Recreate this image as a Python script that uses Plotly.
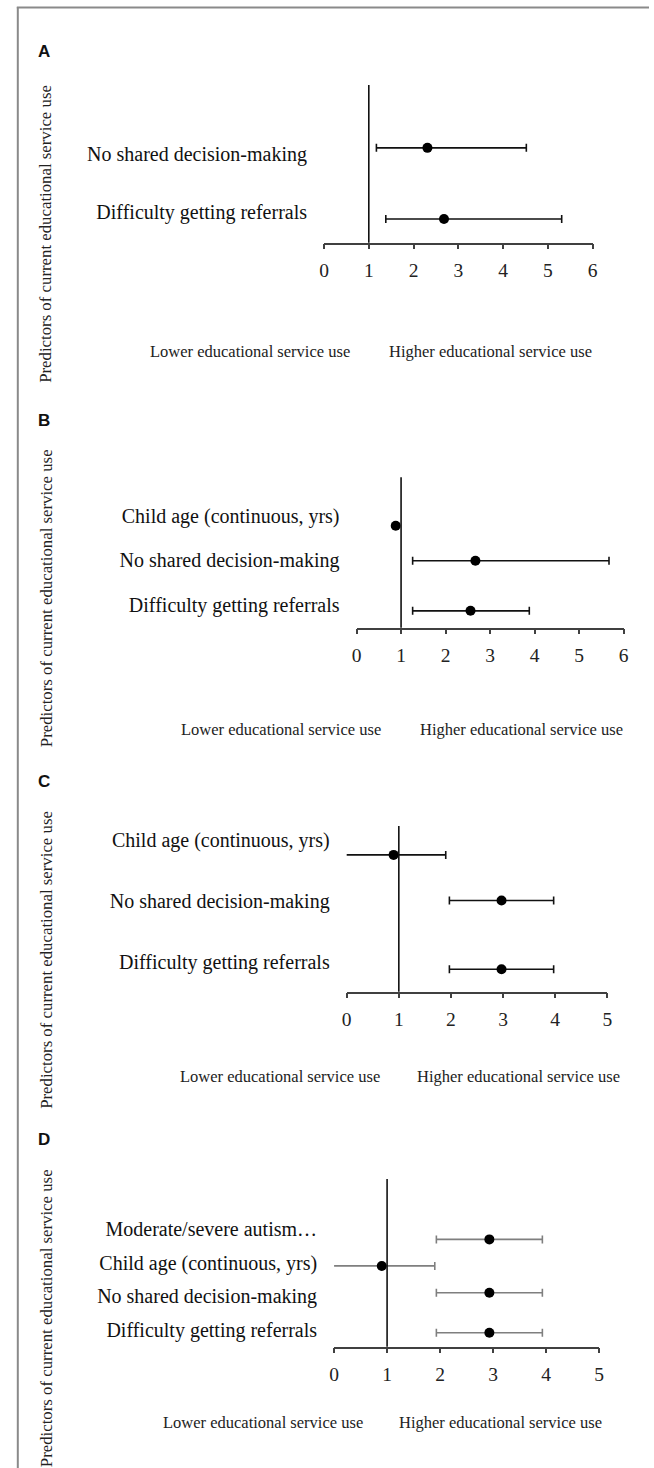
import plotly.graph_objects as go

W, H = 654, 1468

# ---------------- data ----------------
# Panel A
cats_A = ["No shared decision-making", "Difficulty getting referrals"]
or_A = [2.31, 2.68]
lo_A = [1.17, 1.38]
hi_A = [4.52, 5.31]
row_A = [1.10, -0.12]

# Panel B
cats_B = ["Child age (continuous, yrs)", "No shared decision-making", "Difficulty getting referrals"]
or_B = [0.88, 2.67, 2.56]
lo_B = [None, 1.26, 1.26]
hi_B = [None, 5.67, 3.88]
row_B = [1.77, 0.99, -0.13]

# Panel C
cats_C = ["Child age (continuous, yrs)", "No shared decision-making", "Difficulty getting referrals"]
or_C = [0.90, 2.97, 2.97]
lo_C = [-0.10, 1.97, 1.97]
hi_C = [1.90, 3.97, 3.97]
row_C = [1.76, 1.01, -0.12]

# Panel D
cats_D = ["Moderate/severe autism…", "Child age (continuous, yrs)",
          "No shared decision-making", "Difficulty getting referrals"]
or_D = [2.93, 0.90, 2.93, 2.93]
lo_D = [1.93, -0.10, 1.93, 1.93]
hi_D = [3.93, 1.90, 3.93, 3.93]
row_D = [2.69, 1.90, 1.10, -0.09]

ticks_6 = [0, 1, 2, 3, 4, 5, 6]
ticks_5 = [0, 1, 2, 3, 4, 5]

y_title = "Predictors of current educational service use"
lower_txt = "Lower educational service use"
higher_txt = "Higher educational service use"
letters = ["A", "B", "C", "D"]

# ---------------- layout (pixel geometry) ----------------
panels = [
    dict(cats=cats_A, orv=or_A, lo=lo_A, hi=hi_A, row=row_A, ticks=ticks_6,
         x0=324, x1=596.7, ytop=85, ybot=242.7, yr=[-0.527, 2.178], bar="#111111",
         letter_y=51.7, title_y=234, low_x=248.8, high_x=493, lab_y=351.7),
    dict(cats=cats_B, orv=or_B, lo=lo_B, hi=hi_B, row=row_B, ticks=ticks_6,
         x0=357, x1=628.3, ytop=477.3, ybot=627.7, yr=[-0.507, 2.854], bar="#111111",
         letter_y=420, title_y=598.3, low_x=280.7, high_x=525, lab_y=729.3),
    dict(cats=cats_C, orv=or_C, lo=lo_C, hi=hi_C, row=row_C, ticks=ticks_5,
         x0=347, x1=611.7, ytop=826, ybot=991.7, yr=[-0.488, 2.235], bar="#111111",
         letter_y=781.7, title_y=960, low_x=279.5, high_x=521.3, lab_y=1076),
    dict(cats=cats_D, orv=or_D, lo=lo_D, hi=hi_D, row=row_D, ticks=ticks_5,
         x0=334.2, x1=603.3, ytop=1179, ybot=1346.7, yr=[-0.506, 4.489], bar="#7f7f7f",
         letter_y=1139.3, title_y=1318.3, low_x=262.1, high_x=503.5, lab_y=1422.7),
]

def px(x):
    return x / W

def py(y):
    return 1 - y / H

SERIF = "Liberation Serif, Times New Roman, serif"
SANS = "Liberation Sans, Arial, sans-serif"

fig = go.Figure()
annotations = []
shapes = []

def note(text, x, y, size, family, angle=0, color="#222222"):
    return dict(text=text, xref="paper", yref="paper", x=px(x), y=py(y),
                xanchor="center", yanchor="middle", textangle=angle, showarrow=False,
                font=dict(family=family, size=size, color=color))

for i, p in enumerate(panels):
    k = "" if i == 0 else str(i + 1)
    xa, ya = "x" + k, "y" + k
    n = len(p["cats"])
    plus = [None if (h is None) else round(h - o, 4) for h, o in zip(p["hi"], p["orv"])]
    minus = [None if (l is None) else round(o - l, 4) for l, o in zip(p["lo"], p["orv"])]
    fig.add_trace(go.Scatter(
        x=p["orv"], y=p["row"], mode="markers",
        marker=dict(color="black", size=10),
        error_x=dict(type="data", symmetric=False, array=plus, arrayminus=minus,
                     color=p["bar"], thickness=1.6, width=4),
        xaxis=xa, yaxis=ya, showlegend=False, hoverinfo="x", cliponaxis=True,
    ))
    ax_common = dict(range=[p["ticks"][0], p["ticks"][-1]], tickvals=p["ticks"],
                     showline=True, linecolor="#404040", linewidth=1.5,
                     ticks="outside", ticklen=5, tickwidth=1.5, tickcolor="#404040",
                     showgrid=False, zeroline=False,
                     tickfont=dict(family=SERIF, size=19.5, color="#222222"),
                     ticklabelstandoff=4,
                     domain=[px(p["x0"]), px(p["x1"])], anchor=ya, fixedrange=True)
    rows = list(range(n - 1, -1, -1))
    ay_common = dict(range=p["yr"], tickvals=rows, ticktext=p["cats"],
                     showline=False, ticks="", showgrid=False, zeroline=False,
                     tickfont=dict(family=SERIF, size=20, color="#111111"),
                     ticklabelstandoff=16,
                     domain=[py(p["ybot"]), py(p["ytop"])], anchor=xa, fixedrange=True)
    fig.update_layout(**{("xaxis" + k): ax_common, ("yaxis" + k): ay_common})

    # reference line at OR = 1
    shapes.append(dict(type="line", xref=xa, yref=ya + " domain", x0=1, x1=1, y0=0, y1=1,
                       line=dict(color="#111111", width=1.6), layer="above"))

    annotations.append(note("<b>%s</b>" % letters[i], 40, p["letter_y"], 17, SANS, color="#111111"))
    annotations.append(note(y_title, 41.5, p["title_y"], 16.8, SERIF, angle=-90))
    annotations.append(note(lower_txt, p["low_x"], p["lab_y"], 16.5, SERIF))
    annotations.append(note(higher_txt, p["high_x"], p["lab_y"], 16.5, SERIF))

# outer frame (left and top edges)
shapes.append(dict(type="line", xref="paper", yref="paper", x0=px(13), x1=px(13),
                   y0=py(7), y1=0, line=dict(color="#8a8a8a", width=2)))
shapes.append(dict(type="line", xref="paper", yref="paper", x0=px(12), x1=1,
                   y0=py(7.5), y1=py(7.5), line=dict(color="#8a8a8a", width=2)))

fig.update_layout(width=W, height=H, margin=dict(l=0, r=0, t=0, b=0),
                  paper_bgcolor="white", plot_bgcolor="white",
                  annotations=annotations, shapes=shapes, showlegend=False)

fig.write_html("out.html", config={"displayModeBar": False},
               post_script="document.body.style.margin='0';document.body.style.overflow='hidden';")
